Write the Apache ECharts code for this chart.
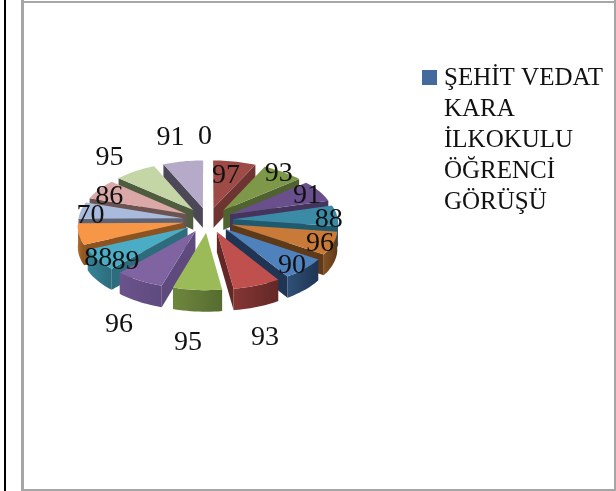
<!DOCTYPE html>
<html>
<head>
<meta charset="utf-8">
<style>html,body{margin:0;padding:0;background:#fff}#c{width:616px;height:491px}</style>
<script src="https://cdn.jsdelivr.net/npm/echarts@6/dist/echarts.min.js"></script>
</head>
<body>
<div id="c"></div>
<script>
var sliceValues = [0, 97, 93, 91, 88, 96, 90, 93, 95, 96, 89, 88, 70, 86, 95, 91];
var legendLines = ['ŞEHİT VEDAT', 'KARA', 'İLKOKULU', 'ÖĞRENCİ', 'GÖRÜŞÜ'];
var seriesName = legendLines.join(' ');
var topColors = ['#4f81bd','#9e4b48','#7d9848','#69508c','#3b8ba7','#c97a38','#4f81bd','#c0504d','#9bbb59','#8064a2','#4bacc6','#f79646','#a9bbdc','#d9a8a7','#c4d6a5','#b5aac8'];
var sideColors = ['#2a4566','#6e3432','#4f6230','#45345e','#1f5a6e','#5e3a18','#1f3553','#632826','#566b30','#5f4a7e','#2c6c7d','#8c5220','#5c6374','#6c5250','#505c40','#4d4858'];
var labelNudge = [[-3,-26],[-8,12],[-3,0],[-11,3],[-8,3],[-14,-1],[-14,-5],[7,50],[-9,50],[-19,42],[29,0],[20,23],[9,4],[9,6],[-27,-15],[-13,-26]];

var CX = 208, CY = 220, R = 105, EXPLODE = 25, TILT = 0.5, PERSP = 0.08, DEPTH = 20;
var total = sliceValues.reduce(function (a, b) { return a + b; }, 0);
var rad = Math.PI / 180;

function project(angle, r, mid, e, down) {
  var X = r * Math.sin(angle * rad) + e * Math.sin(mid * rad);
  var Y = r * Math.cos(angle * rad) + e * Math.cos(mid * rad);
  var s = 1 - PERSP * Y / (R + EXPLODE);
  return [CX + X * s, CY - Y * TILT * s + (down ? DEPTH * s : 0)];
}
function startAngle(i) {
  var sum = 0;
  for (var k = 0; k < i; k++) sum += sliceValues[k];
  return sum / total * 360;
}
function renderSlice(params, api) {
  var i = params.dataIndex;
  var v = api.value(0);
  var a0 = startAngle(i), a1 = a0 + v / total * 360, m = (a0 + a1) / 2;
  var z = Math.round(100 - 50 * Math.cos(m * rad));
  var kids = [];
  if (v > 0) {
    var tipT = project(0, 0, m, EXPLODE), tipB = project(0, 0, m, EXPLODE, true);
    var arc = [], a;
    for (a = a0; a < a1; a += 2) arc.push(a);
    arc.push(a1);
    var edge = Math.sin(a1 * rad) > 0 ? a1 : a0;
    if (Math.sin(a1 * rad) > 0 || Math.sin(a0 * rad) < 0) {
      kids.push({ type: 'polygon', z2: z, shape: { points: [tipT, project(edge, R, m, EXPLODE), project(edge, R, m, EXPLODE, true), tipB] },
        style: { fill: sideColors[i] } });
    }
    var front = arc.filter(function (x) { return Math.cos(x * rad) <= 0.02; });
    if (front.length > 1) {
      var up = front.map(function (x) { return project(x, R, m, EXPLODE); });
      var dn = front.slice().reverse().map(function (x) { return project(x, R, m, EXPLODE, true); });
      kids.push({ type: 'polygon', z2: z + 1, shape: { points: up.concat(dn) },
        style: { fill: new echarts.graphic.LinearGradient(1, 0, 0, 0, [
          { offset: 0, color: sideColors[i] },
          { offset: 1, color: echarts.color.lerp(0.35, [sideColors[i], topColors[i]]) }]) } });
    }
    kids.push({ type: 'polygon', z2: z + 2, shape: { points: [tipT].concat(arc.map(function (x) { return project(x, R, m, EXPLODE); })) },
      style: { fill: topColors[i] } });
  }
  var s = 1 - 0.1 * Math.cos(m * rad);
  var lx = CX + (R + EXPLODE) * Math.sin(m * rad) * s + labelNudge[i][0];
  var ly = 221 - (R + EXPLODE) * Math.cos(m * rad) * TILT * s + labelNudge[i][1];
  kids.push({ type: 'text', z2: 500, style: { text: String(v), x: lx, y: ly, align: 'center', verticalAlign: 'middle',
    fill: '#111', font: '28px "Liberation Serif"' } });
  return { type: 'group', children: kids };
}

var chart = echarts.init(document.getElementById('c'), null, { renderer: 'canvas' });
chart.setOption({
  animation: false,
  backgroundColor: '#fff',
  legend: {
    left: 422, top: 63, padding: 0, itemWidth: 17, itemHeight: 141,
    icon: 'path://M0 0H15V15H0Z M17 141Z',
    data: [seriesName],
    formatter: function () { return legendLines.join('\n'); },
    textStyle: { color: '#111', fontFamily: 'Liberation Serif', fontSize: 25, lineHeight: 31 }
  },
  graphic: [
    { type: 'rect', silent: true, shape: { x: 4, y: 0, width: 2, height: 491 }, style: { fill: '#000' } },
    { type: 'rect', silent: true, shape: { x: 21, y: 0, width: 3, height: 491 }, style: { fill: '#a6a6a6' } },
    { type: 'rect', silent: true, shape: { x: 21, y: 1, width: 595, height: 2 }, style: { fill: '#a6a6a6' } },
    { type: 'rect', silent: true, shape: { x: 21, y: 489, width: 595, height: 2 }, style: { fill: '#a6a6a6' } },
    { type: 'rect', silent: true, shape: { x: 614, y: 0, width: 2, height: 491 }, style: { fill: '#a6a6a6' } }
  ],
  series: [{
    type: 'custom',
    name: seriesName,
    coordinateSystem: 'none',
    itemStyle: { color: '#44699c' },
    renderItem: renderSlice,
    data: sliceValues.map(function (v) { return [v]; })
  }]
});
</script>
</body>
</html>
